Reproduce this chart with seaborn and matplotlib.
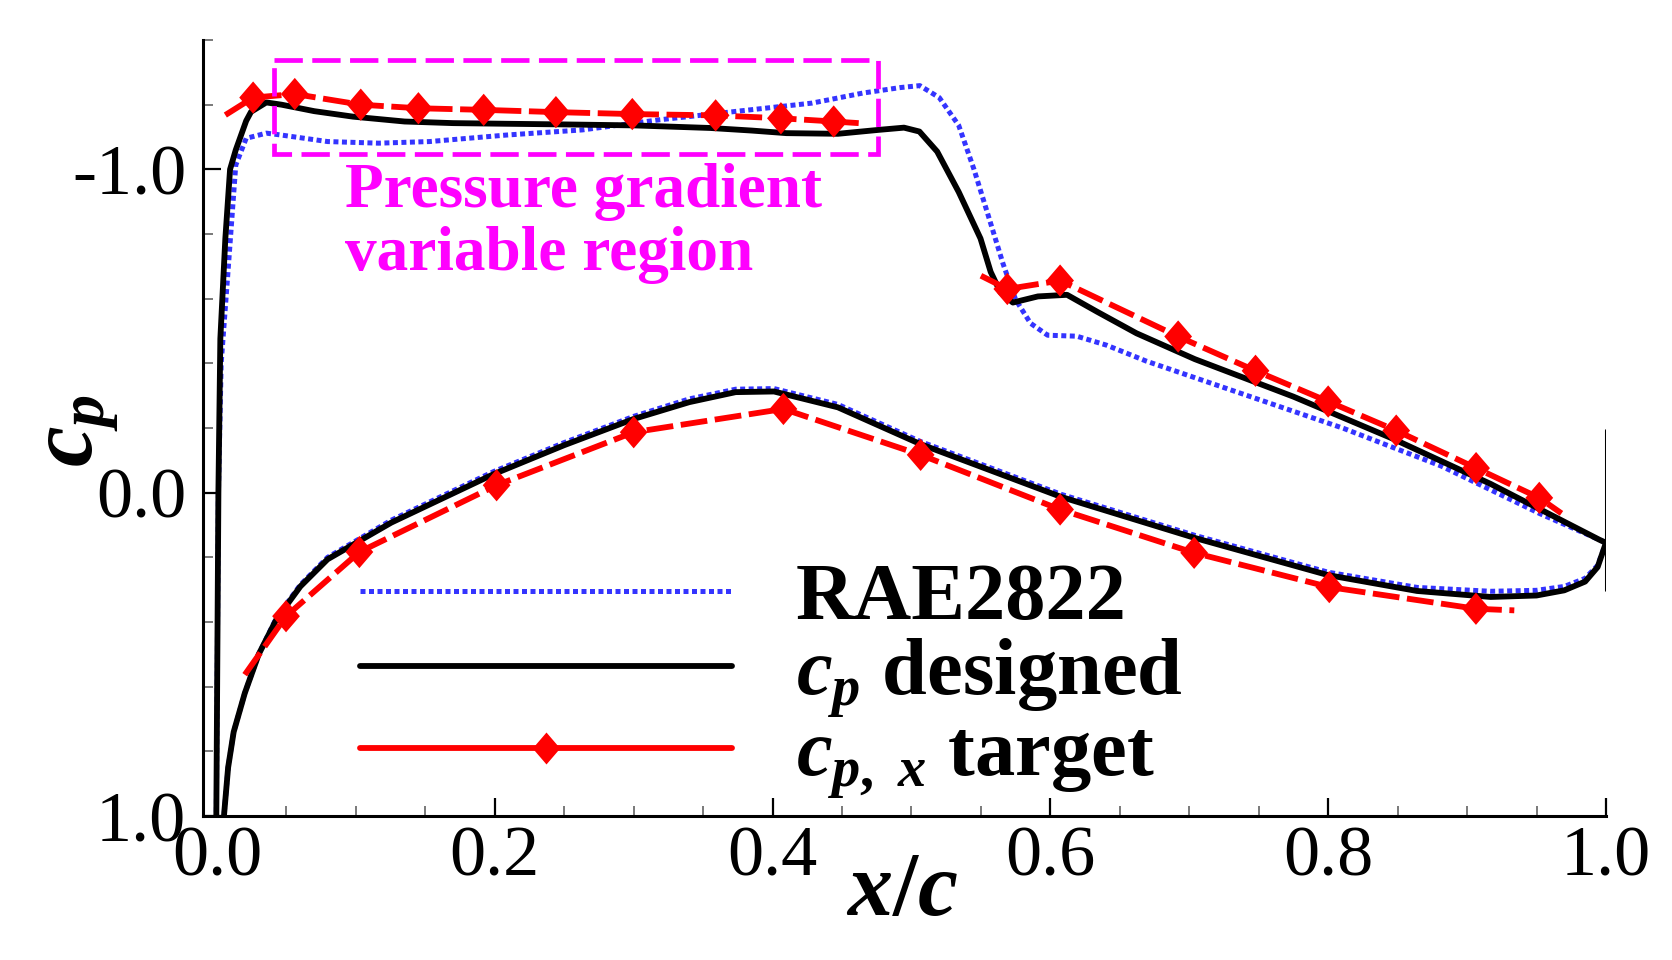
import numpy as np
import pandas as pd
import matplotlib
matplotlib.use("Agg")
import matplotlib.pyplot as plt
import seaborn as sns
from matplotlib.lines import Line2D
from matplotlib.patches import Rectangle
from matplotlib.ticker import FixedLocator, MultipleLocator, FixedFormatter

# ---------------- data ----------------
# designed cp, upper surface (from stagnation point to TE)
des_up_x = [0.0, -0.0005, 0.001, 0.0024, 0.0060, 0.0094, 0.0135, 0.0210, 0.0245, 0.0355, 0.0465,
            0.070, 0.098, 0.135, 0.170, 0.208, 0.250, 0.300, 0.355, 0.385, 0.410, 0.447, 0.476,
            0.4946, 0.5057, 0.5185, 0.534, 0.5497, 0.557, 0.564, 0.573, 0.591, 0.612, 0.6335,
            0.662, 0.704, 0.775, 0.846, 0.917, 0.995, 1.0]
des_up_y = [1.12, 1.00, 0.00, -0.476, -0.786, -1.000, -1.060, -1.150, -1.178, -1.207, -1.200,
            -1.180, -1.163, -1.148, -1.143, -1.141, -1.139, -1.136, -1.128, -1.120, -1.112, -1.110,
            -1.122, -1.129, -1.117, -1.055, -0.930, -0.786, -0.683, -0.620, -0.588, -0.607, -0.612,
            -0.560, -0.493, -0.413, -0.297, -0.168, -0.027, 0.145, 0.155]
# designed cp, lower surface
des_lo_x = [0.0, 0.005, 0.008, 0.012, 0.020, 0.030, 0.043, 0.060, 0.0796, 0.1255, 0.199, 0.250,
            0.300, 0.340, 0.3734, 0.401, 0.447, 0.5066, 0.6077, 0.704, 0.800, 0.864, 0.917, 0.950,
            0.970, 0.985, 0.994, 1.0]
des_lo_y = [1.12, 1.00, 0.85, 0.74, 0.62, 0.50, 0.39, 0.29, 0.206, 0.0925, -0.057, -0.147,
            -0.228, -0.280, -0.311, -0.313, -0.264, -0.150, 0.013, 0.140, 0.255, 0.304, 0.3225,
            0.318, 0.302, 0.275, 0.230, 0.155]
# trailing-edge closing segment of the designed curve
te_x = [1.0, 1.0]
te_y = [-0.195, 0.300]

# RAE2822 cp, upper surface
rae_up_x = [0.0, -0.0005, 0.001, 0.003, 0.0079, 0.0135, 0.0210, 0.0355, 0.0465, 0.0796, 0.1163,
            0.153, 0.208, 0.263, 0.318, 0.373, 0.4285, 0.465, 0.492, 0.506, 0.520, 0.534, 0.545,
            0.5555, 0.566, 0.575, 0.5857, 0.598, 0.619, 0.6406, 0.669, 0.740, 0.811, 0.8816,
            0.9525, 0.995, 1.0]
rae_up_y = [1.12, 1.00, 0.00, -0.40, -0.683, -1.013, -1.096, -1.112, -1.106, -1.086, -1.081,
            -1.086, -1.106, -1.122, -1.153, -1.179, -1.205, -1.236, -1.253, -1.259, -1.222, -1.136,
            -1.000, -0.854, -0.707, -0.597, -0.524, -0.487, -0.484, -0.456, -0.407, -0.303, -0.199,
            -0.082, 0.065, 0.145, 0.155]
# RAE2822 cp, lower surface
rae_lo_x = des_lo_x
rae_lo_y = [1.12, 1.00, 0.85, 0.74, 0.62, 0.50, 0.385, 0.285, 0.200, 0.085, -0.065, -0.155,
            -0.236, -0.290, -0.320, -0.322, -0.273, -0.158, 0.005, 0.132, 0.246, 0.293, 0.305,
            0.302, 0.290, 0.265, 0.225, 0.155]

# target cp,x (first and last point of each piece carry no marker)
tgt_up1_x = [0.006, 0.026, 0.056, 0.1035, 0.145, 0.192, 0.244, 0.299, 0.359, 0.406, 0.444, 0.462]
tgt_up1_y = [-1.168, -1.222, -1.233, -1.200, -1.189, -1.184, -1.177, -1.171, -1.167, -1.158,
             -1.148, -1.143]
tgt_up2_x = [0.550, 0.569, 0.607, 0.692, 0.7477, 0.800, 0.849, 0.9065, 0.952, 0.968]
tgt_up2_y = [-0.671, -0.630, -0.656, -0.483, -0.377, -0.282, -0.192, -0.076, 0.016, 0.064]
tgt_lo_x = [0.020, 0.0497, 0.1025, 0.2013, 0.300, 0.4078, 0.5066, 0.607, 0.7035, 0.8008,
            0.9064, 0.934]
tgt_lo_y = [0.563, 0.382, 0.1835, -0.023, -0.187, -0.259, -0.117, 0.052, 0.186, 0.292, 0.359,
            0.364]

# annotation box (x0, x1, y0, y1) and its text
box_x = [0.041, 0.476]
box_y = [-1.339, -1.047]
note_lines = ["Pressure gradient", "variable region"]
note_pos = [(0.0924, -0.884), (0.0924, -0.688)]

legend_labels = ["RAE2822", r"$c_p$ designed", r"$c_{p,\ x}$ target"]
xtick_vals = [0.0, 0.2, 0.4, 0.6, 0.8, 1.0]
xtick_labels = ["0.0", "0.2", "0.4", "0.6", "0.8", "1.0"]
ytick_vals = [-1.0, 0.0, 1.0]
ytick_labels = ["-1.0", "0.0", "1.0"]

# ---------------- style ----------------
sns.set_theme(style="ticks")
plt.rcParams["font.family"] = ["Liberation Serif", "DejaVu Serif"]
plt.rcParams["mathtext.fontset"] = "custom"
plt.rcParams["mathtext.it"] = "Liberation Serif:italic:bold"
plt.rcParams["mathtext.rm"] = "Liberation Serif:bold"
plt.rcParams["mathtext.bf"] = "Liberation Serif:bold"

BLUE = "#3434ff"
RED = "#ff0000"
MAG = "#ff00ff"
LW_BLUE, LW_BLACK, LW_RED = 3.6, 4.2, 4.2
blue_ls = (0, (1.0, 0.7))
red_ls = (0, (4.6, 1.3))
diamond = [(0, 1), (0.86, 0), (0, -1), (-0.86, 0), (0, 1)]

fig = plt.figure(figsize=(16.72, 9.6), dpi=100)
ax = fig.add_axes([0.1214, 0.15, 0.9605 - 0.1214, 0.9583 - 0.15])


def curve(x, y, **kw):
    df = pd.DataFrame({"x": x, "y": y})
    sns.lineplot(data=df, x="x", y="y", sort=False, estimator=None, ax=ax, legend=False, **kw)


# RAE2822 (blue dotted)
for xs, ys in [(rae_up_x, rae_up_y), (rae_lo_x, rae_lo_y)]:
    curve(xs, ys, color=BLUE, lw=LW_BLUE, linestyle=blue_ls, dash_capstyle="butt", zorder=2)
# designed (black solid)
for xs, ys in [(des_up_x, des_up_y), (des_lo_x, des_lo_y)]:
    curve(xs, ys, color="black", lw=LW_BLACK, zorder=3, solid_joinstyle="round")
curve(te_x, te_y, color="black", lw=2.2, zorder=3)
# target (red dashed + diamonds)
for xs, ys in [(tgt_up1_x, tgt_up1_y), (tgt_up2_x, tgt_up2_y), (tgt_lo_x, tgt_lo_y)]:
    curve(xs, ys, color=RED, lw=LW_RED, linestyle=red_ls, dash_capstyle="butt", zorder=4)
    sns.scatterplot(x=xs[1:-1], y=ys[1:-1], ax=ax, marker=diamond, s=540, color=RED,
                    edgecolor="none", linewidth=0, zorder=5, legend=False)

# annotation box and text
ax.add_patch(Rectangle((box_x[0], box_y[0]), box_x[1] - box_x[0], box_y[1] - box_y[0],
                       fill=False, edgecolor=MAG, lw=3.4, linestyle=(0, (6.0, 2.0)), zorder=6))
for txt, (tx, ty) in zip(note_lines, note_pos):
    ax.text(tx, ty, txt, color=MAG, fontsize=45.5, fontweight="bold", ha="left", va="baseline",
            zorder=6)

# axes
ax.set_xlim(-0.0101, 1.0)
ax.set_ylim(1.0, -1.4)
sns.despine(ax=ax)
for s in ["left", "bottom"]:
    ax.spines[s].set_linewidth(2.2)
    ax.spines[s].set_color("black")
ax.xaxis.set_major_locator(FixedLocator(xtick_vals))
ax.xaxis.set_major_formatter(FixedFormatter(xtick_labels))
ax.yaxis.set_major_locator(FixedLocator(ytick_vals))
ax.yaxis.set_major_formatter(FixedFormatter(ytick_labels))
ax.xaxis.set_minor_locator(MultipleLocator(0.05))
ax.yaxis.set_minor_locator(MultipleLocator(0.2))
ax.tick_params(which="major", direction="in", length=13, width=1.6, color="black",
               labelsize=52, labelcolor="black")
ax.tick_params(which="minor", direction="in", length=7, width=1.1, color="#555555")
ax.tick_params(axis="x", which="major", pad=7)
ax.tick_params(axis="y", which="major", pad=12)
ax.tick_params(top=False, right=False, which="both")

ax.set_xlabel(r"$x/c$", fontsize=65, color="black")
ax.set_ylabel(r"$c_p$", fontsize=66, color="black")
ax.xaxis.set_label_coords(0.498, -0.046)
ax.yaxis.set_label_coords(-0.058, 0.497)

# legend
handles = [
    Line2D([], [], color=BLUE, lw=LW_BLUE, linestyle=blue_ls, dash_capstyle="butt"),
    Line2D([], [], color="black", lw=LW_BLACK),
    Line2D([], [], color=RED, lw=LW_RED, marker=diamond, markersize=23, markeredgewidth=0),
]
leg = ax.legend(handles, legend_labels, loc="upper left", bbox_to_anchor=(0.1119, 0.326),
                frameon=False, fontsize=58, handlelength=4.62, handletextpad=0.79,
                labelspacing=0.0, borderpad=0, borderaxespad=0, markerscale=1.0)
for t in leg.get_texts():
    t.set_fontweight("bold")
    t.set_color("black")

fig.savefig("out.png", dpi=100, facecolor="white")
